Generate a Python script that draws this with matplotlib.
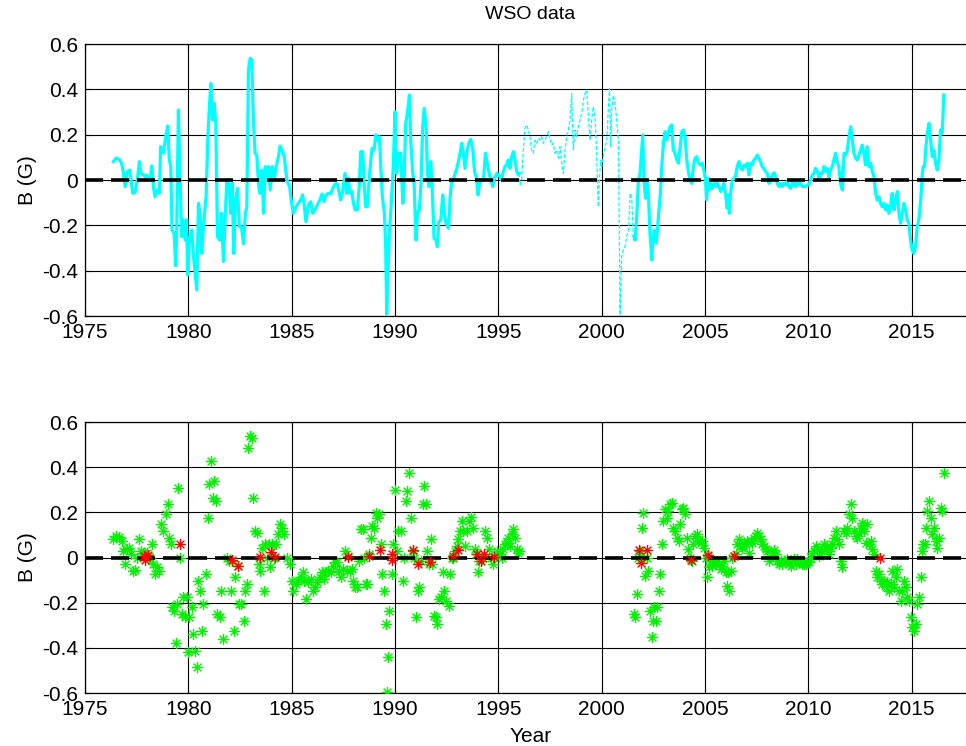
import matplotlib
matplotlib.use("Agg")
import matplotlib.pyplot as plt
from matplotlib.path import Path

plt.rcParams['font.family'] = ['Liberation Sans', 'DejaVu Sans']
plt.rcParams['axes.unicode_minus'] = False

# Polar field, first solid stretch (1976 - 1996)
years_a = [
    1976.37, 1976.50, 1976.66, 1976.78, 1976.86, 1976.94, 1977.05, 1977.15, 1977.21, 1977.31,
    1977.42, 1977.53, 1977.63, 1977.71, 1977.82, 1977.91, 1977.99, 1978.08, 1978.15, 1978.23,
    1978.31, 1978.39, 1978.50, 1978.60, 1978.66, 1978.79, 1978.91, 1979.00, 1979.08, 1979.15,
    1979.21, 1979.31, 1979.39, 1979.44, 1979.52, 1979.60, 1979.68, 1979.76, 1979.84, 1979.92,
    1979.97, 1980.05, 1980.17, 1980.25, 1980.33, 1980.41, 1980.49, 1980.57, 1980.65, 1980.73,
    1980.86, 1980.94, 1981.02, 1981.09, 1981.17, 1981.25, 1981.33, 1981.41, 1981.51, 1981.60,
    1981.70, 1981.86, 1981.97, 1982.05, 1982.12, 1982.20, 1982.28, 1982.38, 1982.47, 1982.57,
    1982.67, 1982.76, 1982.83, 1982.91, 1982.99, 1983.07, 1983.15, 1983.23, 1983.31, 1983.41,
    1983.47, 1983.56, 1983.64, 1983.72, 1983.80, 1983.88, 1983.96, 1984.06, 1984.15, 1984.25,
    1984.36, 1984.44, 1984.54, 1984.64, 1984.77, 1984.90,
    1985.00, 1985.08, 1985.21, 1985.32, 1985.44, 1985.53, 1985.60, 1985.69, 1985.81, 1985.92,
    1986.02, 1986.13, 1986.24, 1986.37, 1986.47, 1986.57, 1986.66, 1986.78, 1986.89, 1986.99,
    1987.10, 1987.21, 1987.31, 1987.37, 1987.47, 1987.58, 1987.66, 1987.74, 1987.82, 1987.91,
    1987.99, 1988.07, 1988.18, 1988.28, 1988.34, 1988.44, 1988.50, 1988.58, 1988.66, 1988.76,
    1988.83, 1988.89, 1988.99, 1989.07, 1989.15, 1989.25, 1989.31, 1989.39, 1989.49, 1989.55,
    1989.60, 1989.65, 1989.73, 1989.84, 1989.92, 1990.00, 1990.08, 1990.17, 1990.28, 1990.38,
    1990.44, 1990.52, 1990.60, 1990.70, 1990.76, 1990.86, 1990.92, 1991.02, 1991.09, 1991.18,
    1991.26, 1991.34, 1991.41, 1991.51, 1991.57, 1991.65, 1991.73, 1991.80, 1991.89, 1991.99,
    1992.05, 1992.12, 1992.22, 1992.31, 1992.39, 1992.47, 1992.59, 1992.67, 1992.75, 1992.83,
    1992.91, 1992.99, 1993.07, 1993.15, 1993.23, 1993.31, 1993.39, 1993.47, 1993.57, 1993.67,
    1993.77, 1993.85, 1993.93, 1994.02, 1994.09, 1994.18, 1994.28, 1994.38, 1994.44, 1994.54,
    1994.64, 1994.73, 1994.81, 1994.93, 1995.09, 1995.16, 1995.24, 1995.32, 1995.40, 1995.48,
    1995.56, 1995.65, 1995.73, 1995.81, 1995.89, 1995.97, 1996.02,
]
field_a = [
    0.081, 0.096, 0.091, 0.071, 0.029, -0.029, 0.037, 0.044, 0.015, -0.059,
    -0.056, 0.0, 0.081, 0.029, 0.022, 0.015, 0.022, 0.0, 0.0, 0.062,
    -0.029, -0.074, -0.044, -0.059, 0.147, 0.118, 0.191, 0.238, 0.088, 0.059,
    -0.221, -0.235, -0.379, -0.206, 0.309, 0.0, -0.25, -0.176, -0.265, -0.176,
    -0.419, -0.265, -0.221, -0.338, -0.412, -0.485, -0.103, -0.147, -0.324, -0.206,
    -0.074, 0.176, 0.324, 0.426, 0.265, 0.338, 0.25, -0.25, -0.265, -0.147,
    -0.36, 0.0, -0.015, -0.147, -0.015, -0.324, -0.088, -0.037, -0.206, -0.206,
    -0.282, -0.147, -0.118, 0.485, 0.537, 0.529, 0.265, 0.118, 0.11, -0.029,
    -0.059, 0.044, -0.147, 0.059, 0.0, 0.059, -0.044, 0.059, 0.0, 0.059,
    0.103, 0.15, 0.132, 0.103, 0.0, -0.029,
    -0.103, -0.147, -0.118, -0.103, -0.088, -0.066, -0.103, -0.184, -0.11, -0.096,
    -0.147, -0.132, -0.11, -0.088, -0.062, -0.096, -0.066, -0.059, -0.062, -0.037,
    -0.018, -0.018, -0.059, -0.088, -0.051, 0.029, -0.059, 0.007, -0.059, -0.051,
    -0.103, -0.132, -0.132, -0.015, 0.125, 0.125, 0.0, -0.118, -0.118, 0.015,
    0.088, 0.14, 0.132, 0.199, 0.176, 0.191, 0.059, -0.074, -0.147, -0.294,
    -0.595, -0.441, -0.235, -0.074, 0.059, 0.301, 0.029, 0.118, 0.118, -0.103,
    0.0, 0.25, 0.294, 0.375, 0.176, 0.029, 0.0, -0.265, -0.147, -0.132,
    -0.015, 0.235, 0.316, 0.235, 0.029, -0.029, 0.081, -0.029, -0.257, -0.265,
    -0.294, -0.184, -0.176, -0.066, -0.147, -0.191, -0.213, -0.074, 0.0, 0.0,
    0.029, 0.051, 0.081, 0.118, 0.162, 0.118, 0.051, 0.118, 0.162, 0.179,
    0.132, 0.037, 0.015, -0.066, -0.015, 0.0, 0.0, 0.118, 0.088, 0.037,
    0.0, -0.029, 0.007, 0.029, 0.015, 0.0, 0.037, 0.059, 0.066, 0.088,
    0.051, 0.103, 0.125, 0.088, 0.037, 0.022, 0.029,
]

# Uncertain stretch (1996 - 2001.6), drawn dashed
years_gap = [
    1996.02, 1996.05, 1996.13, 1996.21, 1996.29, 1996.37, 1996.45, 1996.53, 1996.61, 1996.69,
    1996.78, 1996.86, 1996.94, 1997.02, 1997.10, 1997.18, 1997.26, 1997.34, 1997.42, 1997.50,
    1997.58, 1997.66, 1997.74, 1997.82, 1997.91, 1997.99, 1998.07, 1998.15, 1998.23, 1998.31,
    1998.39, 1998.47, 1998.55, 1998.63, 1998.71, 1998.79, 1998.87, 1998.95, 1999.04, 1999.12,
    1999.20, 1999.28, 1999.36, 1999.44, 1999.52, 1999.60, 1999.68, 1999.76, 1999.79, 1999.84,
    1999.89, 1999.96, 2000.00, 2000.08, 2000.17, 2000.25, 2000.33, 2000.38, 2000.44, 2000.49,
    2000.57, 2000.65, 2000.73, 2000.81, 2000.86, 2000.89, 2000.97, 2001.05, 2001.13, 2001.21,
    2001.30, 2001.38, 2001.46, 2001.54, 2001.57,
]
field_gap = [
    0.029, -0.022, 0.0, 0.132, 0.228, 0.243, 0.221, 0.191, 0.132, 0.118,
    0.176, 0.162, 0.184, 0.176, 0.191, 0.162, 0.176, 0.191, 0.213, 0.184,
    0.154, 0.162, 0.118, 0.132, 0.096, 0.147, 0.074, 0.029, 0.132, 0.191,
    0.221, 0.265, 0.382, 0.132, 0.221, 0.191, 0.235, 0.265, 0.294, 0.353,
    0.382, 0.397, 0.279, 0.176, 0.265, 0.324, 0.279, 0.118, 0.015, -0.118,
    0.0, 0.088, 0.059, 0.103, 0.147, 0.176, 0.324, 0.404, 0.147, 0.309,
    0.375, 0.338, 0.265, 0.176, -0.265, -0.62, -0.338, -0.309, -0.294, -0.25,
    -0.221, -0.059, -0.088, -0.265, -0.25,
]

# Second solid stretch (2001.6 - 2016.6)
years_b = [
    2001.57, 2001.62, 2001.70, 2001.78, 2001.86, 2001.94, 2001.99, 2002.05, 2002.12, 2002.18,
    2002.26, 2002.34, 2002.43, 2002.47, 2002.54, 2002.64, 2002.70, 2002.76, 2002.83, 2002.91,
    2002.99, 2003.07, 2003.15, 2003.23, 2003.31, 2003.39, 2003.47, 2003.55, 2003.64, 2003.72,
    2003.80, 2003.88, 2003.96, 2004.04, 2004.12, 2004.20, 2004.28, 2004.36, 2004.44, 2004.52,
    2004.60, 2004.68, 2004.79, 2004.87, 2004.95, 2005.03, 2005.08, 2005.15, 2005.21, 2005.27,
    2005.35, 2005.44, 2005.52, 2005.60, 2005.68, 2005.76, 2005.84, 2005.92, 2006.00, 2006.08,
    2006.13, 2006.18, 2006.24, 2006.32, 2006.40, 2006.48, 2006.56, 2006.65, 2006.73, 2006.81,
    2006.89, 2006.97, 2007.05, 2007.13, 2007.21, 2007.29, 2007.37, 2007.45, 2007.53, 2007.61,
    2007.69, 2007.77, 2007.85, 2007.94, 2008.02, 2008.10, 2008.18, 2008.26, 2008.34, 2008.42,
    2008.50, 2008.58, 2008.66, 2008.74, 2008.82, 2008.90, 2008.98, 2009.06, 2009.15, 2009.23,
    2009.31, 2009.39, 2009.47, 2009.55, 2009.63, 2009.71, 2009.79, 2009.87, 2009.95, 2010.03,
    2010.11, 2010.19, 2010.27, 2010.35, 2010.44, 2010.52, 2010.60, 2010.68, 2010.76, 2010.84,
    2010.92, 2011.00, 2011.08, 2011.16, 2011.24, 2011.32, 2011.40, 2011.48, 2011.56, 2011.65,
    2011.73, 2011.81, 2011.89, 2011.97, 2012.05, 2012.13, 2012.21, 2012.29, 2012.37, 2012.45,
    2012.53, 2012.61, 2012.69, 2012.77, 2012.85, 2012.94, 2013.02, 2013.10, 2013.18, 2013.26,
    2013.34, 2013.42, 2013.50, 2013.58, 2013.66, 2013.74, 2013.82, 2013.90, 2013.98, 2014.06,
    2014.15, 2014.23, 2014.31, 2014.39, 2014.47, 2014.55, 2014.63, 2014.71, 2014.79, 2014.87,
    2014.95, 2015.03, 2015.11, 2015.19, 2015.27, 2015.35, 2015.44, 2015.52, 2015.56, 2015.63,
    2015.68, 2015.76, 2015.84, 2015.92, 2016.00, 2016.08, 2016.16, 2016.24, 2016.32, 2016.40,
    2016.48, 2016.56,
]
field_b = [
    -0.25, -0.265, -0.162, 0.0, 0.029, 0.132, 0.199, 0.0, -0.081, 0.0,
    -0.059, -0.235, -0.353, -0.279, -0.221, -0.279, -0.221, -0.147, -0.074, 0.059,
    0.162, 0.213, 0.176, 0.206, 0.235, 0.243, 0.132, 0.118, 0.088, 0.074,
    0.147, 0.213, 0.221, 0.191, 0.088, 0.037, 0.0, -0.015, 0.059, 0.096,
    0.103, 0.074, 0.066, 0.074, 0.044, 0.0, -0.088, 0.007, -0.044, -0.015,
    -0.037, -0.015, -0.029, -0.015, -0.029, -0.051, -0.037, -0.015, -0.066, -0.125,
    -0.066, -0.147, -0.059, 0.0, 0.007, 0.015, 0.059, 0.081, 0.051, 0.044,
    0.066, 0.059, 0.074, 0.022, 0.074, 0.066, 0.088, 0.096, 0.11, 0.096,
    0.081, 0.059, 0.051, 0.037, 0.029, -0.015, 0.0, 0.022, 0.032, 0.015,
    -0.015, -0.029, -0.015, -0.029, -0.015, -0.022, -0.007, -0.029, -0.037, -0.015,
    -0.007, -0.029, -0.007, -0.022, -0.015, -0.029, -0.029, -0.029, -0.022, -0.022,
    0.0, 0.022, 0.029, 0.051, 0.037, 0.007, 0.029, 0.029, 0.059, 0.037,
    0.051, 0.015, 0.044, 0.059, 0.088, 0.118, 0.081, 0.059, -0.015, -0.044,
    0.118, 0.11, 0.132, 0.191, 0.235, 0.176, 0.118, 0.096, 0.088, 0.11,
    0.132, 0.154, 0.118, 0.066, 0.147, 0.059, 0.074, 0.037, 0.015, -0.059,
    -0.088, -0.074, -0.103, -0.118, -0.103, -0.132, -0.11, -0.147, -0.118, -0.059,
    -0.132, -0.088, -0.051, -0.147, -0.191, -0.147, -0.103, -0.132, -0.176, -0.191,
    -0.265, -0.309, -0.324, -0.294, -0.206, -0.176, -0.088, 0.029, 0.059, 0.059,
    0.132, 0.206, 0.25, 0.176, 0.103, 0.132, 0.074, 0.044, 0.088, 0.221,
    0.206, 0.375,
]

# Rotations flagged near zero
red_years = [1977.85, 1977.91, 1978.07, 1979.60, 1982.10, 1982.38, 1983.47, 1984.00, 1984.20,
             1987.74, 1988.76, 1989.28, 1989.84, 1989.84, 1990.89, 1991.09, 1991.70, 1992.83,
             1993.04, 1993.96, 1994.17, 1994.31, 1994.77, 2001.81, 2001.89, 2002.18, 2004.31,
             2005.13, 2006.41, 2013.46]
red_field = [0.005, -0.01, 0.01, 0.06, -0.012, -0.037, 0.003, 0.025, 0.003,
             0.003, 0.007, 0.032, 0.015, -0.01, 0.035, -0.03, -0.02, 0.006,
             0.032, 0.015, -0.015, 0.015, 0.003, 0.035, -0.024, 0.035, -0.012,
             0.01, 0.006, 0.0]

# asterisk marker: a plus with a shorter x through it
d = 0.7
star = Path([(-1, 0), (1, 0), (0, -1), (0, 1), (-d, -d), (d, d), (-d, d), (d, -d)],
            [Path.MOVETO, Path.LINETO] * 4)

xlim = (1975, 2018.1)
yticks = [-0.6, -0.4, -0.2, 0, 0.2, 0.4, 0.6]
ytick_labels = ['-0.6', '-0.4', '-0.2', '0', '0.2', '0.4', '0.6']

fig = plt.figure(figsize=(9.66, 7.46), dpi=100)
ax1 = fig.add_axes([0.088, 0.5764, 0.922, 0.3646])
ax2 = fig.add_axes([0.088, 0.0710, 0.922, 0.3633])

for ax in (ax1, ax2):
    ax.set_xlim(*xlim)
    ax.set_ylim(-0.6, 0.6)
    ax.set_xticks(range(1975, 2016, 5))
    ax.set_yticks(yticks)
    ax.set_yticklabels(ytick_labels)
    ax.grid(True, color='black', linestyle='-', linewidth=0.8)
    ax.set_axisbelow(True)
    ax.tick_params(direction='in', length=4, width=0.8, labelsize=15, pad=5,
                   top=True, right=True)
    for s in ax.spines.values():
        s.set_linewidth(0.9)
    ax.set_ylabel('B (G)', fontsize=15, labelpad=4)
    zero, = ax.plot(xlim, [0, 0], color='black', linewidth=2.6, zorder=4)
    zero.set_dashes([5.0, 2.2])

ax1.plot(years_a, field_a, color='cyan', linewidth=2.3, zorder=3)
ax1.plot(years_b, field_b, color='cyan', linewidth=2.3, zorder=3)
gap, = ax1.plot(years_gap, field_gap, color='cyan', linewidth=0.9, zorder=3)
gap.set_dashes([3, 1.5])
ax1.set_title('WSO data', fontsize=14, pad=18)

ax2.plot(years_a + years_b, field_a + field_b, linestyle='none', marker=star,
         markersize=8, markeredgewidth=1.0, color='#00f000', zorder=3)
ax2.plot(red_years, red_field, linestyle='none', marker=star,
         markersize=8, markeredgewidth=1.0, color='red', zorder=5)
ax2.set_xlabel('Year', fontsize=15, labelpad=6)

fig.savefig('out.png', dpi=100)
